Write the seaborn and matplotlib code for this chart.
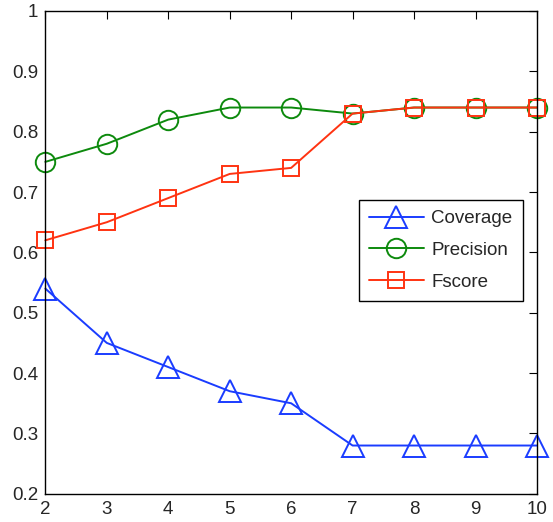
import matplotlib
matplotlib.use("Agg")
import matplotlib.pyplot as plt
import seaborn as sns
import pandas as pd

# Number of clusters on the x axis
k_values = [2, 3, 4, 5, 6, 7, 8, 9, 10]
coverage = [0.54, 0.45, 0.41, 0.37, 0.35, 0.28, 0.28, 0.28, 0.28]
precision = [0.75, 0.78, 0.82, 0.84, 0.84, 0.83, 0.84, 0.84, 0.84]
fscore = [0.62, 0.65, 0.69, 0.73, 0.74, 0.83, 0.84, 0.84, 0.84]

series_names = ["Coverage", "Precision", "Fscore"]
series_colors = ["#1a3cff", "#0d8a0d", "#ff3311"]
series_markers = ["^", "o", "s"]
series_sizes = [16, 14, 11]

x_ticks = [2, 3, 4, 5, 6, 7, 8, 9, 10]
y_ticks = [0.2, 0.3, 0.4, 0.5, 0.6, 0.7, 0.8, 0.9, 1.0]
y_tick_labels = ["0.2", "0.3", "0.4", "0.5", "0.6", "0.7", "0.8", "0.9", "1"]

sns.set_style("white")
plt.rcParams["font.family"] = ["Liberation Sans", "DejaVu Sans"]
plt.rcParams["xtick.direction"] = "in"
plt.rcParams["ytick.direction"] = "in"

df = pd.DataFrame({
    "k": k_values * 3,
    "value": coverage + precision + fscore,
    "metric": [n for n in series_names for _ in k_values],
})

fig = plt.figure(figsize=(5.53, 5.22), dpi=100)
ax = fig.add_axes([0.082, 0.054, 0.889, 0.925])

for name, color, marker, size in zip(series_names, series_colors, series_markers, series_sizes):
    sub = df[df["metric"] == name]
    sns.lineplot(data=sub, x="k", y="value", ax=ax, color=color, marker=marker,
                 markersize=size, markerfacecolor="none", markeredgecolor=color,
                 markeredgewidth=1.4, linewidth=1.4, label=name, clip_on=False)

ax.set_xlim(2, 10)
ax.set_ylim(0.2, 1.0)
ax.set_xticks(x_ticks)
ax.set_yticks(y_ticks)
ax.set_yticklabels(y_tick_labels)
ax.set_xlabel("")
ax.set_ylabel("")
ax.tick_params(axis="both", labelsize=13.5, length=6, width=0.8, color="black",
               top=True, right=True, pad=5)
for s in ax.spines.values():
    s.set_visible(True)
    s.set_color("black")
    s.set_linewidth(1.0)

leg = ax.legend(loc="upper left", bbox_to_anchor=(0.638, 0.609), fontsize=13.5,
                frameon=True, fancybox=False, edgecolor="black", framealpha=1,
                handlelength=2.9, borderpad=0.55, labelspacing=0.78, handletextpad=0.4,
                borderaxespad=0)
leg.get_frame().set_linewidth(1.0)

fig.savefig("out.png", dpi=100)
